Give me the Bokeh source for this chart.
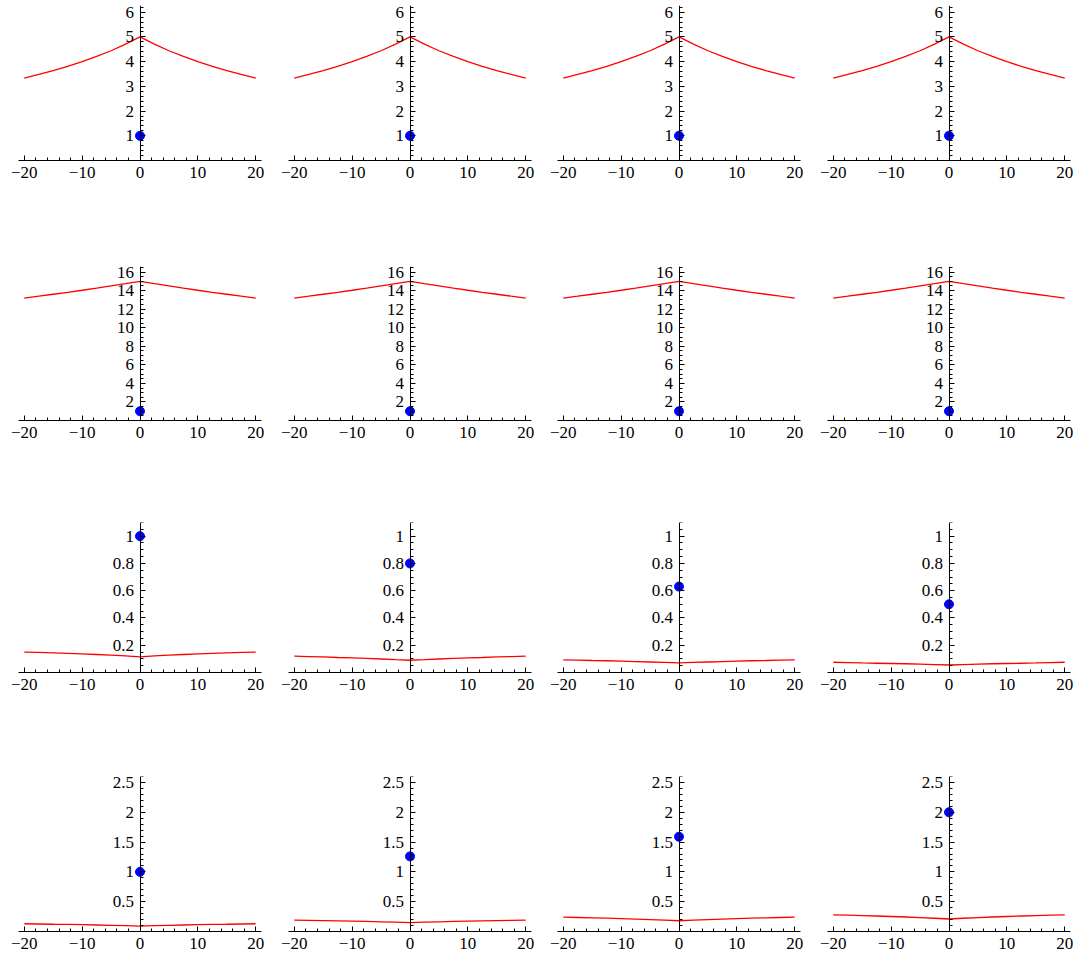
from bokeh.plotting import figure
from bokeh.layouts import column, row
from bokeh.models import FixedTicker, Range1d
from bokeh.embed import file_html
from bokeh.resources import INLINE

# ---- data ----
x_pts = [-20, -17.5, -15, -12.5, -10, -7.5, -5, -2.5, 0, 2.5, 5, 7.5, 10, 12.5, 15, 17.5, 20]

def sym(half):
    # half = values at x = 0, 2.5, ..., 20 ; mirror for negative x
    return list(reversed(half[1:])) + list(half)

row1_red_half = [5.0, 4.71, 4.44, 4.21, 4.0, 3.81, 3.64, 3.48, 3.33]
row2_red_half = [15.0, 14.75, 14.51, 14.27, 14.04, 13.82, 13.61, 13.4, 13.2]
row3_red_half = [
    [0.115, 0.122, 0.127, 0.132, 0.136, 0.140, 0.144, 0.147, 0.150],
    [0.090, 0.094, 0.099, 0.103, 0.107, 0.110, 0.114, 0.117, 0.120],
    [0.070, 0.074, 0.077, 0.080, 0.083, 0.086, 0.088, 0.091, 0.093],
    [0.055, 0.058, 0.061, 0.064, 0.066, 0.068, 0.070, 0.073, 0.075],
]
row4_red_half = [
    [0.090, 0.097, 0.103, 0.109, 0.114, 0.119, 0.122, 0.126, 0.130],
    [0.150, 0.157, 0.163, 0.169, 0.174, 0.178, 0.182, 0.186, 0.190],
    [0.180, 0.190, 0.200, 0.208, 0.216, 0.223, 0.229, 0.235, 0.240],
    [0.210, 0.222, 0.233, 0.243, 0.252, 0.260, 0.267, 0.274, 0.280],
]
row1_blue = [1.0, 1.0, 1.0, 1.0]
row2_blue = [1.0, 1.0, 1.0, 1.0]
row3_blue = [1.0, 0.8, 0.63, 0.5]
row4_blue = [1.0, 1.26, 1.59, 2.0]

x_ticks = [-20, -10, 0, 10, 20]
x_tick_labels = ["\u221220", "\u221210", "0", "10", "20"]
x_minor = [-18, -16, -14, -12, -8, -6, -4, -2, 2, 4, 6, 8, 12, 14, 16, 18]

row_specs = [
    dict(red=[sym(row1_red_half)] * 4, blue=row1_blue, ymax=6.27,
         yt=[1, 2, 3, 4, 5, 6], ylab=["1", "2", "3", "4", "5", "6"],
         yminor_step=0.2, h=261, top=5, bottom=101),
    dict(red=[sym(row2_red_half)] * 4, blue=row2_blue, ymax=16.6,
         yt=[2, 4, 6, 8, 10, 12, 14, 16],
         ylab=["2", "4", "6", "8", "10", "12", "14", "16"],
         yminor_step=0.5, h=252, top=5, bottom=93),
    dict(red=[sym(r) for r in row3_red_half], blue=row3_blue, ymax=1.1,
         yt=[0.2, 0.4, 0.6, 0.8, 1.0],
         ylab=["0.2", "0.4", "0.6", "0.8", "1"],
         yminor_step=0.05, h=258, top=9, bottom=99),
    dict(red=[sym(r) for r in row4_red_half], blue=row4_blue, ymax=2.6,
         yt=[0.5, 1.0, 1.5, 2.0, 2.5],
         ylab=["0.5", "1", "1.5", "2", "2.5"],
         yminor_step=0.1, h=188, top=5, bottom=28),
]

col_widths = [270, 270, 270, 270]
col_left = [18, 18, 17, 17]
col_right = [9, 9, 10, 10]
FONT = "Liberation Serif"

rows = []
for spec in row_specs:
    figs = []
    n_minor = int(spec["ymax"] / spec["yminor_step"] + 1e-9)
    y_minor = [round(i * spec["yminor_step"], 4) for i in range(1, n_minor + 1)]
    y_minor = [v for v in y_minor if all(abs(v - t) > 1e-6 for t in spec["yt"])]
    for c in range(4):
        p = figure(width=col_widths[c], height=spec["h"],
                   x_range=Range1d(-21, 21), y_range=Range1d(0, spec["ymax"]),
                   output_backend="svg", toolbar_location=None,
                   min_border_left=col_left[c], min_border_right=col_right[c],
                   min_border_top=spec["top"], min_border_bottom=spec["bottom"])
        p.outline_line_color = None
        p.xgrid.visible = False
        p.ygrid.visible = False
        p.background_fill_color = "white"
        p.border_fill_color = "white"

        p.line(x_pts, spec["red"][c], color="#ff0000", line_width=1.3)
        p.scatter([0], [spec["blue"][c]], size=9, fill_color="#0000ff",
                  line_color="#0000ff", fill_alpha=1.0)

        xa = p.xaxis[0]
        xa.ticker = FixedTicker(ticks=x_ticks, minor_ticks=x_minor)
        xa.major_label_overrides = {t: l for t, l in zip(x_ticks, x_tick_labels)}
        xa.major_tick_in = 5
        xa.major_tick_out = 0
        xa.minor_tick_in = 3
        xa.minor_tick_out = 0
        xa.major_label_standoff = 6
        xa.major_label_text_font = FONT
        xa.major_label_text_font_size = "17px"
        xa.major_label_text_color = "black"
        xa.axis_line_color = "black"

        ya = p.yaxis[0]
        ya.fixed_location = 0
        ya.ticker = FixedTicker(ticks=spec["yt"], minor_ticks=y_minor)
        ya.major_label_overrides = {t: l for t, l in zip(spec["yt"], spec["ylab"])}
        ya.major_tick_in = 5
        ya.major_tick_out = 0
        ya.minor_tick_in = 3
        ya.minor_tick_out = 0
        ya.major_label_standoff = 6
        ya.major_label_text_font = FONT
        ya.major_label_text_font_size = "17px"
        ya.major_label_text_color = "black"
        ya.axis_line_color = "black"
        figs.append(p)
    rows.append(row(*figs))

layout = column(*rows)
open("out.html", "w").write(file_html(layout, INLINE))
